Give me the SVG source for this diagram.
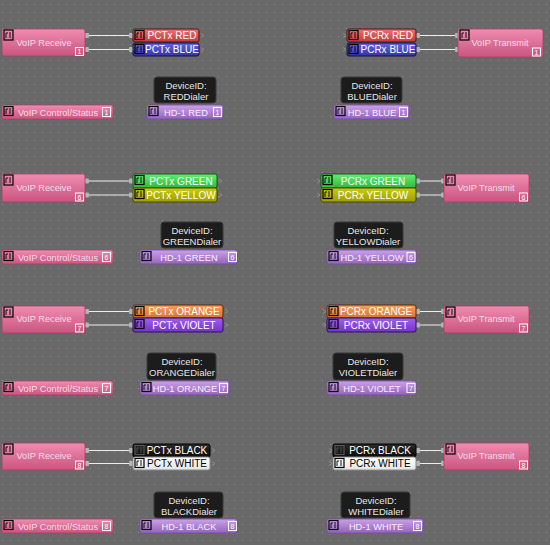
<svg xmlns="http://www.w3.org/2000/svg" width="550" height="545" viewBox="0 0 550 545">
<defs>
<pattern id="dots" x="0" y="0" width="8" height="8" patternUnits="userSpaceOnUse">
<rect x="2" y="4" width="1" height="1" fill="#8e8e8e"/>
</pattern>
<linearGradient id="gPink" x1="0" y1="0" x2="0" y2="1"><stop offset="0" stop-color="#f08cb0"/><stop offset="1" stop-color="#c9557f"/></linearGradient>
<linearGradient id="gRed" x1="0" y1="0" x2="0" y2="1"><stop offset="0" stop-color="#ee7070"/><stop offset="1" stop-color="#c03c3c"/></linearGradient>
<linearGradient id="gBlue" x1="0" y1="0" x2="0" y2="1"><stop offset="0" stop-color="#6464e0"/><stop offset="1" stop-color="#3434a8"/></linearGradient>
<linearGradient id="gGreen" x1="0" y1="0" x2="0" y2="1"><stop offset="0" stop-color="#66ec70"/><stop offset="1" stop-color="#2fb83e"/></linearGradient>
<linearGradient id="gYellow" x1="0" y1="0" x2="0" y2="1"><stop offset="0" stop-color="#cccc10"/><stop offset="1" stop-color="#9c9c00"/></linearGradient>
<linearGradient id="gOrange" x1="0" y1="0" x2="0" y2="1"><stop offset="0" stop-color="#f4a060"/><stop offset="1" stop-color="#d47434"/></linearGradient>
<linearGradient id="gViolet" x1="0" y1="0" x2="0" y2="1"><stop offset="0" stop-color="#a060ec"/><stop offset="1" stop-color="#7434c4"/></linearGradient>
<linearGradient id="gBlack" x1="0" y1="0" x2="0" y2="1"><stop offset="0" stop-color="#2a2a2a"/><stop offset="1" stop-color="#0c0c0c"/></linearGradient>
<linearGradient id="gWhite" x1="0" y1="0" x2="0" y2="1"><stop offset="0" stop-color="#ffffff"/><stop offset="1" stop-color="#e4e4e4"/></linearGradient>
<linearGradient id="gHD" x1="0" y1="0" x2="0" y2="1"><stop offset="0" stop-color="#caa0ea"/><stop offset="1" stop-color="#9464bc"/></linearGradient>
</defs>
<style>
text{font-family:"Liberation Sans",Arial,sans-serif;text-anchor:middle}
.big{font-size:9.2px;fill:#f8dcea}
.lbl{font-size:10px;fill:#ffffff}
.lblk{font-size:10px;fill:#000000}
.hd{font-size:9.3px;fill:#f8f0ff}
.dev{font-size:9.5px;fill:#e6e6e6}
.num{font-size:7px;fill:#ffffff}
.pink{fill:url(#gPink);stroke:#a8406a;stroke-width:0.8}
.red{fill:url(#gRed);stroke:#4a1414;stroke-width:1}
.blue{fill:url(#gBlue);stroke:#12124a;stroke-width:1}
.green{fill:url(#gGreen);stroke:#145a1a;stroke-width:1}
.yellow{fill:url(#gYellow);stroke:#4a4a00;stroke-width:1}
.orange{fill:url(#gOrange);stroke:#5a2a0a;stroke-width:1}
.violet{fill:url(#gViolet);stroke:#2e0e5a;stroke-width:1}
.black{fill:url(#gBlack);stroke:#000;stroke-width:1}
.white{fill:url(#gWhite);stroke:#888;stroke-width:1}
.hdr{fill:url(#gHD);stroke:#7a4aa0;stroke-width:0.8}
.devbox{fill:#1c1c1c;stroke:#3a3a3a;stroke-width:1}
.ico{fill:none;stroke:#000;stroke-width:1.2}
.icol{fill:none;stroke:#000;stroke-width:0.9}
.badge{fill:none;stroke:#ffffff;stroke-width:1}
.wire{stroke:#ececec;stroke-width:1.2;fill:none}
.port{fill:#b4b4b4}
.chev{fill:none;stroke:#8e8e8e;stroke-width:1}
</style>
<rect width="550" height="545" fill="#696969"/>
<rect width="550" height="545" fill="url(#dots)"/>

<g id="connectors">
<path class="wire" d="M89 35.5H130M89 49.5H130M420 35.5H455M420 49.5H455"/>
<path class="wire" d="M89 181H130M89 195H130M420 181H441M420 195H441"/>
<path class="wire" d="M89 311.5H130M89 325H130M420 311.5H441M420 325H441"/>
<path class="wire" d="M89 450.5H130M89 463.5H130M420 450.5H441M420 463.5H441"/>
<g class="port">
<rect x="85" y="33" width="4" height="5" rx="1"/><rect x="85" y="47" width="4" height="5" rx="1"/>
<rect x="129" y="33" width="4" height="5" rx="1"/><rect x="129" y="47" width="4" height="5" rx="1"/>
<rect x="416" y="33" width="4" height="5" rx="1"/><rect x="416" y="47" width="4" height="5" rx="1"/>
<rect x="455" y="33" width="4" height="5" rx="1"/><rect x="455" y="47" width="4" height="5" rx="1"/>
<rect x="85" y="178.5" width="4" height="5" rx="1"/><rect x="85" y="192.5" width="4" height="5" rx="1"/>
<rect x="129" y="178.5" width="4" height="5" rx="1"/><rect x="129" y="192.5" width="4" height="5" rx="1"/>
<rect x="416" y="178.5" width="4" height="5" rx="1"/><rect x="416" y="192.5" width="4" height="5" rx="1"/>
<rect x="441" y="178.5" width="4" height="5" rx="1"/><rect x="441" y="192.5" width="4" height="5" rx="1"/>
<rect x="85" y="309" width="4" height="5" rx="1"/><rect x="85" y="322.5" width="4" height="5" rx="1"/>
<rect x="129" y="309" width="4" height="5" rx="1"/><rect x="129" y="322.5" width="4" height="5" rx="1"/>
<rect x="416" y="309" width="4" height="5" rx="1"/><rect x="416" y="322.5" width="4" height="5" rx="1"/>
<rect x="441" y="309" width="4" height="5" rx="1"/><rect x="441" y="322.5" width="4" height="5" rx="1"/>
<rect x="85" y="448" width="4" height="5" rx="1"/><rect x="85" y="461" width="4" height="5" rx="1"/>
<rect x="129" y="448" width="4" height="5" rx="1"/><rect x="129" y="461" width="4" height="5" rx="1"/>
<rect x="416" y="448" width="4" height="5" rx="1"/><rect x="416" y="461" width="4" height="5" rx="1"/>
<rect x="441" y="448" width="4" height="5" rx="1"/><rect x="441" y="461" width="4" height="5" rx="1"/>
</g>
<path class="chev" d="M201 33.5l3 2-3 2M201 47.5l3 2-3 2M343 33.5l3 2-3 2M343 47.5l3 2-3 2"/>
<path class="chev" d="M219 179l3 2-3 2M219 193l3 2-3 2M317 179l3 2-3 2M317 193l3 2-3 2"/>
<path class="chev" d="M225 309.5l3 2-3 2M225 323l3 2-3 2M323 309.5l3 2-3 2M323 323l3 2-3 2"/>
<path class="chev" d="M212 448.5l3 2-3 2M212 461.5l3 2-3 2M329 448.5l3 2-3 2M329 461.5l3 2-3 2"/>
</g>

<!-- Section 1 -->
<g id="voip-receive-1"><rect class="pink" x="2" y="29" width="83" height="27" rx="2"/><rect class="ico" x="4" y="30" width="9" height="10"/><path class="icol" d="M6 38v-5h2M10 38v-6"/><text class="big" x="44" y="46">VoIP Receive</text><rect class="badge" x="75.5" y="47.5" width="8" height="8"/><text class="num" x="79.5" y="54">1</text></g>
<g id="pctx-red"><rect class="red" x="133" y="29" width="66" height="13" rx="2"/><rect class="ico" x="135" y="30.5" width="9" height="9"/><path class="icol" d="M137 38v-5h2M141 38v-6"/><text class="lbl" x="172" y="39">PCTx RED</text></g>
<g id="pctx-blue"><rect class="blue" x="133" y="43" width="66" height="13" rx="2"/><rect class="ico" x="135" y="44.5" width="9" height="9"/><path class="icol" d="M137 52v-5h2M141 52v-6"/><text class="lbl" x="172" y="53">PCTx BLUE</text></g>
<g id="pcrx-red"><rect class="red" x="347" y="29" width="69" height="13" rx="2"/><rect class="ico" x="349" y="30.5" width="9" height="9"/><path class="icol" d="M351 38v-5h2M355 38v-6"/><text class="lbl" x="388" y="39">PCRx RED</text></g>
<g id="pcrx-blue"><rect class="blue" x="347" y="43" width="69" height="13" rx="2"/><rect class="ico" x="349" y="44.5" width="9" height="9"/><path class="icol" d="M351 52v-5h2M355 52v-6"/><text class="lbl" x="388" y="53">PCRx BLUE</text></g>
<g id="voip-transmit-1"><rect class="pink" x="458" y="29" width="85" height="28" rx="2"/><rect class="ico" x="460" y="30" width="9" height="10"/><path class="icol" d="M462 38v-5h2M466 38v-6"/><text class="big" x="500" y="46">VoIP Transmit</text><rect class="badge" x="532.5" y="48" width="8" height="8"/><text class="num" x="536.5" y="54.5">1</text></g>
<g id="device-red"><rect class="devbox" x="154" y="77" width="62" height="26" rx="3"/><text class="dev" x="186" y="89">DeviceID:</text><text class="dev" x="186" y="100">REDDialer</text></g>
<g id="device-blue"><rect class="devbox" x="341" y="77" width="61" height="26" rx="3"/><text class="dev" x="372" y="89">DeviceID:</text><text class="dev" x="372" y="100">BLUEDialer</text></g>
<g id="control-1"><rect class="pink" x="2" y="105" width="111" height="14" rx="2"/><rect class="ico" x="4" y="106.5" width="9" height="9"/><path class="icol" d="M6 114v-5h2M10 114v-6"/><text class="big" x="58" y="115.5">VoIP Control/Status</text><rect class="badge" x="102.5" y="107.5" width="8" height="9"/><text class="num" x="106.5" y="114.5">1</text></g>
<g id="hd1-red"><rect class="hdr" x="147" y="105" width="76" height="14" rx="2"/><rect class="ico" x="149" y="106.5" width="9" height="9"/><path class="icol" d="M151 114v-5h2M155 114v-6"/><text class="hd" x="186" y="115.5">HD-1 RED</text><rect class="badge" x="213.5" y="107.5" width="8" height="9"/><text class="num" x="217.5" y="114.5">1</text></g>
<g id="hd1-blue"><rect class="hdr" x="334" y="105" width="75" height="14" rx="2"/><rect class="ico" x="336" y="106.5" width="9" height="9"/><path class="icol" d="M338 114v-5h2M342 114v-6"/><text class="hd" x="372" y="115.5">HD-1 BLUE</text><rect class="badge" x="399.5" y="107.5" width="8" height="9"/><text class="num" x="403.5" y="114.5">1</text></g>

<!-- Section 2 -->
<g id="voip-receive-6"><rect class="pink" x="2" y="174" width="83" height="28" rx="2"/><rect class="ico" x="4" y="175" width="9" height="10"/><path class="icol" d="M6 183v-5h2M10 183v-6"/><text class="big" x="44" y="191">VoIP Receive</text><rect class="badge" x="75.5" y="193" width="8" height="8"/><text class="num" x="79.5" y="199.5">6</text></g>
<g id="pctx-green"><rect class="green" x="133" y="174" width="84" height="14" rx="2"/><rect class="ico" x="135" y="175.5" width="9" height="9"/><path class="icol" d="M137 183v-5h2M141 183v-6"/><text class="lbl" x="181" y="184.5">PCTx GREEN</text></g>
<g id="pctx-yellow"><rect class="yellow" x="133" y="188" width="84" height="14" rx="2"/><rect class="ico" x="135" y="189.5" width="9" height="9"/><path class="icol" d="M137 197v-5h2M141 197v-6"/><text class="lbl" x="181" y="198.5">PCTx YELLOW</text></g>
<g id="pcrx-green"><rect class="green" x="321" y="174" width="95" height="14" rx="2"/><rect class="ico" x="323" y="175.5" width="9" height="9"/><path class="icol" d="M325 183v-5h2M329 183v-6"/><text class="lbl" x="373" y="184.5">PCRx GREEN</text></g>
<g id="pcrx-yellow"><rect class="yellow" x="321" y="188" width="95" height="14" rx="2"/><rect class="ico" x="323" y="189.5" width="9" height="9"/><path class="icol" d="M325 197v-5h2M329 197v-6"/><text class="lbl" x="373" y="198.5">PCRx YELLOW</text></g>
<g id="voip-transmit-6"><rect class="pink" x="444" y="174" width="85" height="28" rx="2"/><rect class="ico" x="446" y="175" width="9" height="10"/><path class="icol" d="M448 183v-5h2M452 183v-6"/><text class="big" x="486" y="191">VoIP Transmit</text><rect class="badge" x="519.5" y="193" width="8" height="8"/><text class="num" x="523.5" y="199.5">6</text></g>
<g id="device-green"><rect class="devbox" x="161" y="222" width="62" height="26" rx="3"/><text class="dev" x="192" y="234">DeviceID:</text><text class="dev" x="192" y="245">GREENDialer</text></g>
<g id="device-yellow"><rect class="devbox" x="334" y="222" width="69" height="26" rx="3"/><text class="dev" x="368" y="234">DeviceID:</text><text class="dev" x="368" y="245">YELLOWDialer</text></g>
<g id="control-6"><rect class="pink" x="2" y="250" width="111" height="14" rx="2"/><rect class="ico" x="4" y="251.5" width="9" height="9"/><path class="icol" d="M6 259v-5h2M10 259v-6"/><text class="big" x="58" y="260.5">VoIP Control/Status</text><rect class="badge" x="102.5" y="252.5" width="8" height="9"/><text class="num" x="106.5" y="259.5">6</text></g>
<g id="hd1-green"><rect class="hdr" x="140" y="250" width="97" height="14" rx="2"/><rect class="ico" x="142" y="251.5" width="9" height="9"/><path class="icol" d="M144 259v-5h2M148 259v-6"/><text class="hd" x="189" y="260.5">HD-1 GREEN</text><rect class="badge" x="228.5" y="252.5" width="8" height="9"/><text class="num" x="232.5" y="259.5">6</text></g>
<g id="hd1-yellow"><rect class="hdr" x="327" y="250" width="89" height="14" rx="2"/><rect class="ico" x="329" y="251.5" width="9" height="9"/><path class="icol" d="M331 259v-5h2M335 259v-6"/><text class="hd" x="372" y="260.5">HD-1 YELLOW</text><rect class="badge" x="407" y="252.5" width="8" height="9"/><text class="num" x="411" y="259.5">6</text></g>

<!-- Section 3 -->
<g id="voip-receive-7"><rect class="pink" x="2" y="306" width="83" height="27" rx="2"/><rect class="ico" x="4" y="307" width="9" height="10"/><path class="icol" d="M6 315v-5h2M10 315v-6"/><text class="big" x="44" y="322">VoIP Receive</text><rect class="badge" x="75.5" y="324" width="8" height="8"/><text class="num" x="79.5" y="330.5">7</text></g>
<g id="pctx-orange"><rect class="orange" x="133" y="305" width="90" height="13" rx="2"/><rect class="ico" x="135" y="306.5" width="9" height="9"/><path class="icol" d="M137 314v-5h2M141 314v-6"/><text class="lbl" x="184" y="315">PCTx ORANGE</text></g>
<g id="pctx-violet"><rect class="violet" x="133" y="318" width="90" height="14" rx="2"/><rect class="ico" x="135" y="319.5" width="9" height="9"/><path class="icol" d="M137 327v-5h2M141 327v-6"/><text class="lbl" x="184" y="328.5">PCTx VIOLET</text></g>
<g id="pcrx-orange"><rect class="orange" x="327" y="305" width="89" height="13" rx="2"/><rect class="ico" x="329" y="306.5" width="9" height="9"/><path class="icol" d="M331 314v-5h2M335 314v-6"/><text class="lbl" x="376" y="315">PCRx ORANGE</text></g>
<g id="pcrx-violet"><rect class="violet" x="327" y="318" width="89" height="14" rx="2"/><rect class="ico" x="329" y="319.5" width="9" height="9"/><path class="icol" d="M331 327v-5h2M335 327v-6"/><text class="lbl" x="376" y="328.5">PCRx VIOLET</text></g>
<g id="voip-transmit-7"><rect class="pink" x="444" y="306" width="85" height="27" rx="2"/><rect class="ico" x="446" y="307" width="9" height="10"/><path class="icol" d="M448 315v-5h2M452 315v-6"/><text class="big" x="486" y="322">VoIP Transmit</text><rect class="badge" x="519.5" y="324" width="8" height="8"/><text class="num" x="523.5" y="330.5">7</text></g>
<g id="device-orange"><rect class="devbox" x="147" y="353" width="69" height="27" rx="3"/><text class="dev" x="182" y="365">DeviceID:</text><text class="dev" x="182" y="376">ORANGEDialer</text></g>
<g id="device-violet"><rect class="devbox" x="333" y="353" width="70" height="27" rx="3"/><text class="dev" x="368" y="365">DeviceID:</text><text class="dev" x="368" y="376">VIOLETDialer</text></g>
<g id="control-7"><rect class="pink" x="2" y="381" width="111" height="14" rx="2"/><rect class="ico" x="4" y="382.5" width="9" height="9"/><path class="icol" d="M6 390v-5h2M10 390v-6"/><text class="big" x="58" y="391.5">VoIP Control/Status</text><rect class="badge" x="102.5" y="383.5" width="8" height="9"/><text class="num" x="106.5" y="390.5">7</text></g>
<g id="hd1-orange"><rect class="hdr" x="140" y="381" width="89" height="14" rx="2"/><rect class="ico" x="142" y="382.5" width="9" height="9"/><path class="icol" d="M144 390v-5h2M148 390v-6"/><text class="hd" x="185" y="391.5">HD-1 ORANGE</text><rect class="badge" x="219.5" y="383.5" width="8" height="9"/><text class="num" x="223.5" y="390.5">7</text></g>
<g id="hd1-violet"><rect class="hdr" x="327" y="381" width="89" height="14" rx="2"/><rect class="ico" x="329" y="382.5" width="9" height="9"/><path class="icol" d="M331 390v-5h2M335 390v-6"/><text class="hd" x="372" y="391.5">HD-1 VIOLET</text><rect class="badge" x="407" y="383.5" width="8" height="9"/><text class="num" x="411" y="390.5">7</text></g>

<!-- Section 4 -->
<g id="voip-receive-8"><rect class="pink" x="2" y="443" width="83" height="27" rx="2"/><rect class="ico" x="4" y="444" width="9" height="10"/><path class="icol" d="M6 452v-5h2M10 452v-6"/><text class="big" x="44" y="459">VoIP Receive</text><rect class="badge" x="75.5" y="461" width="8" height="8"/><text class="num" x="79.5" y="467.5">8</text></g>
<g id="pctx-black"><rect class="black" x="133" y="444" width="77" height="13" rx="2"/><rect class="ico" x="135" y="445.5" width="9" height="9" style="stroke:#555"/><path class="icol" d="M137 453v-5h2M141 453v-6" style="stroke:#555"/><text class="lbl" x="177" y="454">PCTx BLACK</text></g>
<g id="pctx-white"><rect class="white" x="133" y="457" width="77" height="13" rx="2"/><rect class="ico" x="135" y="458.5" width="9" height="9"/><path class="icol" d="M137 466v-5h2M141 466v-6"/><text class="lblk" x="177" y="467">PCTx WHITE</text></g>
<g id="pcrx-black"><rect class="black" x="333" y="444" width="83" height="13" rx="2"/><rect class="ico" x="335" y="445.5" width="9" height="9" style="stroke:#555"/><path class="icol" d="M337 453v-5h2M341 453v-6" style="stroke:#555"/><text class="lbl" x="380" y="454">PCRx BLACK</text></g>
<g id="pcrx-white"><rect class="white" x="333" y="457" width="83" height="13" rx="2"/><rect class="ico" x="335" y="458.5" width="9" height="9"/><path class="icol" d="M337 466v-5h2M341 466v-6"/><text class="lblk" x="380" y="467">PCRx WHITE</text></g>
<g id="voip-transmit-8"><rect class="pink" x="444" y="443" width="85" height="27" rx="2"/><rect class="ico" x="446" y="444" width="9" height="10"/><path class="icol" d="M448 452v-5h2M452 452v-6"/><text class="big" x="486" y="459">VoIP Transmit</text><rect class="badge" x="519.5" y="461" width="8" height="8"/><text class="num" x="523.5" y="467.5">8</text></g>
<g id="device-black"><rect class="devbox" x="154" y="492" width="69" height="26" rx="3"/><text class="dev" x="189" y="504">DeviceID:</text><text class="dev" x="189" y="515">BLACKDialer</text></g>
<g id="device-white"><rect class="devbox" x="341" y="492" width="69" height="26" rx="3"/><text class="dev" x="376" y="504">DeviceID:</text><text class="dev" x="376" y="515">WHITEDialer</text></g>
<g id="control-8"><rect class="pink" x="2" y="519" width="111" height="14" rx="2"/><rect class="ico" x="4" y="520.5" width="9" height="9"/><path class="icol" d="M6 528v-5h2M10 528v-6"/><text class="big" x="58" y="529.5">VoIP Control/Status</text><rect class="badge" x="102.5" y="521.5" width="8" height="9"/><text class="num" x="106.5" y="528.5">8</text></g>
<g id="hd1-black"><rect class="hdr" x="140" y="519" width="97" height="14" rx="2"/><rect class="ico" x="142" y="520.5" width="9" height="9"/><path class="icol" d="M144 528v-5h2M148 528v-6"/><text class="hd" x="189" y="529.5">HD-1 BLACK</text><rect class="badge" x="228.5" y="521.5" width="8" height="9"/><text class="num" x="232.5" y="528.5">8</text></g>
<g id="hd1-white"><rect class="hdr" x="327" y="519" width="96" height="14" rx="2"/><rect class="ico" x="329" y="520.5" width="9" height="9"/><path class="icol" d="M331 528v-5h2M335 528v-6"/><text class="hd" x="376" y="529.5">HD-1 WHITE</text><rect class="badge" x="413.5" y="521.5" width="8" height="9"/><text class="num" x="417.5" y="528.5">8</text></g>
</svg>
